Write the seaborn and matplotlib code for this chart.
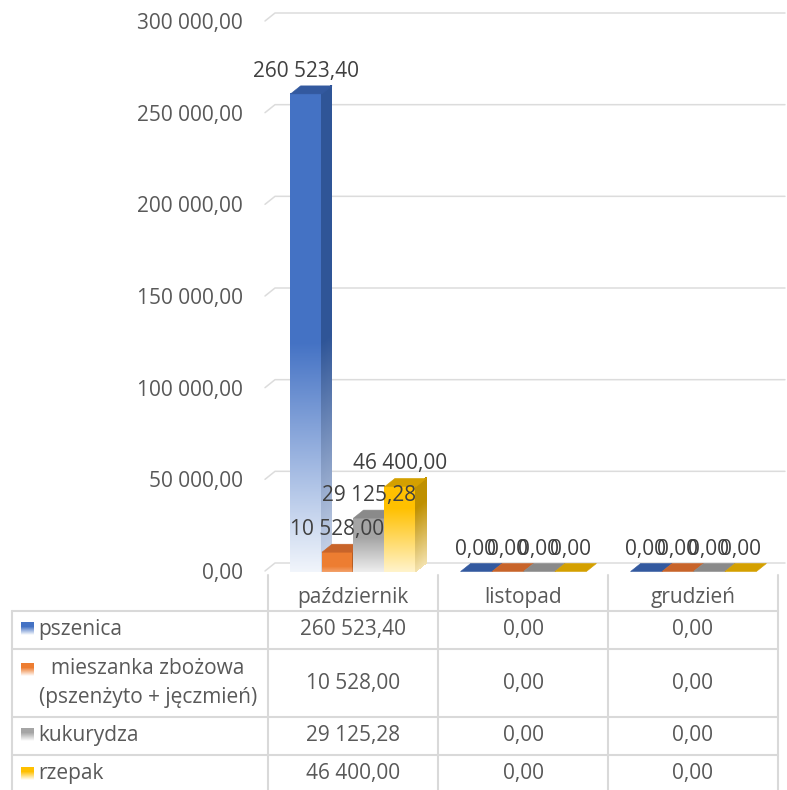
import numpy as np
import pandas as pd
import matplotlib
matplotlib.use("Agg")
import matplotlib.pyplot as plt
import seaborn as sns
from matplotlib.collections import PolyCollection
from matplotlib.lines import Line2D
from matplotlib.transforms import IdentityTransform
from matplotlib.colors import to_rgb

months = ["październik", "listopad", "grudzień"]
crop_keys = ["pszenica", "mieszanka", "kukurydza", "rzepak"]
crop_labels = ["pszenica", "mieszanka zbożowa\n(pszenżyto + jęczmień)", "kukurydza", "rzepak"]
pszenica = [260523.40, 0.0, 0.0]
mieszanka = [10528.00, 0.0, 0.0]
kukurydza = [29125.28, 0.0, 0.0]
rzepak = [46400.00, 0.0, 0.0]
y_ticks = [0, 50000, 100000, 150000, 200000, 250000, 300000]

base_col = ["#4472C4", "#ED7D31", "#A5A5A5", "#FFC000"]
side_col = ["#2F5597", "#B85E22", "#7C7C7C", "#BF9000"]
top_col = ["#33599F", "#C8642A", "#8A8A8A", "#D4A000"]
light_col = ["#F1F5FB", "#F3A26C", "#EEEEEE", "#FFF3CC"]
side_light = ["#D0DAEC", "#D9864F", "#DDDDDD", "#F3E2AE"]
fade_to = [0.48, 0.3, 0.65, 0.75]

W, H = 787, 790
DX, DY = 10, 8
TXT = "#595959"


def fmt(v):
    return f"{v:,.2f}".replace(",", " ").replace(".", ",")


def mix(c_lo, c_hi, t, t1):
    f = np.clip(t / t1, 0, 1) if t1 > 0 else 1.0
    a, b = np.array(to_rgb(c_lo)), np.array(to_rgb(c_hi))
    return tuple(a * (1 - f) + b * f)


def face(target, bl, br, tr, tl, hi, lo, t1, z):
    bl, br, tr, tl = map(np.array, (bl, br, tr, tl))
    n = max(12, int(abs(tl[1] - bl[1])))
    polys, cols = [], []
    for i in range(n):
        a, b = i / n, (i + 1) / n
        polys.append([bl + (tl - bl) * a, br + (tr - br) * a,
                      br + (tr - br) * b, bl + (tl - bl) * b])
        cols.append(mix(lo, hi, (a + b) / 2, t1))
    pc = PolyCollection(polys, facecolors=cols, edgecolors=cols, linewidths=0.4,
                        antialiased=False, transform=IdentityTransform(), zorder=z)
    pc.set_clip_on(False)
    if hasattr(target, "add_collection"):
        target.add_collection(pc, autolim=False)
    else:
        target.add_artist(pc)


sns.set_style("white")
plt.rcParams["font.family"] = ["Open Sans", "DejaVu Sans"]

fig = plt.figure(figsize=(W / 100, H / 100), dpi=100)
ax = fig.add_axes([268 / W, 219 / H, 510 / W, 550 / H])

df = pd.DataFrame({
    "month": months * 4,
    "crop": np.repeat(crop_keys, len(months)),
    "value": pszenica + mieszanka + kukurydza + rzepak,
})
sns.barplot(data=df, x="month", y="value", hue="crop", order=months,
            hue_order=crop_keys, palette=base_col, width=0.74,
            errorbar=None, legend=False, ax=ax)
ax.set_xlim(-0.5, 2.5)
ax.set_ylim(0, 300000)

# gridlines on the back wall
for v in y_ticks:
    xf, yf = ax.transData.transform((-0.5, v))
    ln = Line2D([xf - 3, xf + 7, 785], [yf, yf + DY, yf + DY], color="#DCDCDC",
                lw=1.1, transform=IdentityTransform(), zorder=0.5)
    ln.set_clip_on(False)
    ax.add_line(ln)

# 3D-ish bars built from seaborn's patches
for k, cont in enumerate(ax.containers):
    for p in cont.patches:
        x0, w, h = p.get_x(), p.get_width(), p.get_height()
        p.set_visible(False)
        X0, Y0 = ax.transData.transform((x0, 0))
        X1, Y1 = ax.transData.transform((x0 + w, h))
        z = 2 + k
        if h > 0:
            face(ax, (X0, Y0), (X1, Y0), (X1, Y1), (X0, Y1),
                 base_col[k], light_col[k], fade_to[k], z)
            face(ax, (X1, Y0), (X1 + DX, Y0 + DY), (X1 + DX, Y1 + DY), (X1, Y1),
                 side_col[k], side_light[k], fade_to[k], z)
        top = PolyCollection([[(X0, Y1), (X1, Y1), (X1 + DX, Y1 + DY), (X0 + DX, Y1 + DY)]],
                             facecolors=top_col[k], edgecolors=top_col[k], linewidths=0.4,
                             transform=IdentityTransform(), zorder=z)
        top.set_clip_on(False)
        ax.add_collection(top, autolim=False)
        ax.annotate(fmt(h), (x0 + w / 2, h), xytext=(0, 22), textcoords="offset pixels",
                    ha="center", va="center", fontsize=15, color="#404040",
                    zorder=20, annotation_clip=False)

ax.set_yticks(y_ticks)
ax.set_yticklabels([fmt(v) for v in y_ticks], fontsize=15, color=TXT)
ax.tick_params(axis="y", length=0, pad=18)
ax.set_xticks([])
ax.set_xlabel("")
ax.set_ylabel("")
ax.grid(False)
for s in ax.spines.values():
    s.set_visible(False)
ax.patch.set_visible(False)

# data table
col_x = [ax.transData.transform((b, 0))[0] for b in (-0.5, 0.5, 1.5, 2.5)]
row_lines = [611, 649, 717, 755]
row_mid = [630, 683, 736, 773]
mark_mid = [628, 669, 734, 773]
series = [pszenica, mieszanka, kukurydza, rzepak]
grid_c = "#D9D9D9"


def hline(x0, x1, y):
    fig.add_artist(Line2D([x0, x1], [H - y, H - y], color=grid_c, lw=1.5,
                          transform=IdentityTransform()))


def vline(x, y0, y1):
    fig.add_artist(Line2D([x, x], [H - y0, H - y1], color=grid_c, lw=1.5,
                          transform=IdentityTransform()))


for y in row_lines:
    hline(12, col_x[-1], y)
vline(12, row_lines[0], H)
for x in col_x:
    vline(x, 575, H)

for j, m in enumerate(months):
    cx = (col_x[j] + col_x[j + 1]) / 2
    fig.text(cx, H - 598, m, transform=IdentityTransform(), ha="center",
             va="center", fontsize=15, color=TXT)
    for i, vals in enumerate(series):
        fig.text(cx, H - row_mid[i], fmt(vals[j]), transform=IdentityTransform(),
                 ha="center", va="center", fontsize=15, color=TXT)

for i, lab in enumerate(crop_labels):
    my = H - mark_mid[i]
    face(fig, (21, my - 6), (33, my - 6), (33, my + 6), (21, my + 6),
         base_col[i], "#FFFFFF", 0.7, 5)
    if "\n" in lab:
        fig.text(148, H - row_mid[i], lab, transform=IdentityTransform(),
                 ha="center", va="center", multialignment="center",
                 linespacing=1.45, fontsize=15, color=TXT)
    else:
        fig.text(38, H - row_mid[i], lab, transform=IdentityTransform(),
                 ha="left", va="center", fontsize=15, color=TXT)

fig.savefig("out.png", dpi=100)
